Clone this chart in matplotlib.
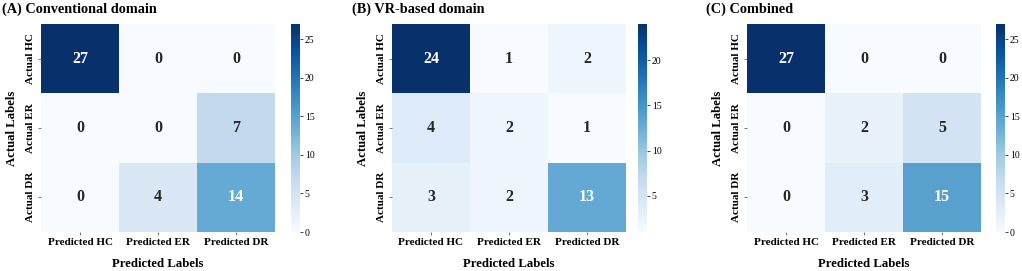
import numpy as np
import matplotlib
matplotlib.use("Agg")
import matplotlib.pyplot as plt
import seaborn as sns

plt.rcParams['font.family'] = ['Liberation Serif', 'DejaVu Serif']

pred_labels = ["Predicted HC", "Predicted ER", "Predicted DR"]
actual_labels = ["Actual HC", "Actual ER", "Actual DR"]

cm_conventional = [[27, 0, 0],
                   [0, 0, 7],
                   [0, 4, 14]]
cm_vr = [[24, 1, 2],
         [4, 2, 1],
         [3, 2, 13]]
cm_combined = [[27, 0, 0],
               [0, 2, 5],
               [0, 3, 15]]

titles = ["(A) Conventional domain", "(B) VR-based domain", "(C) Combined"]
matrices = [cm_conventional, cm_vr, cm_combined]

W, H = 1022, 271
fig = plt.figure(figsize=(W / 100, H / 100), dpi=100)

# pixel positions of heatmap / colorbar / title for each panel
hm_left = [41, 392, 747]
cb_left = [291, 638, 996]
title_x = [2, 352, 706]
hm_w, cb_w = 234, 9
top, bottom = 24, 232

for i in range(3):
    ax = fig.add_axes([hm_left[i] / W, 1 - bottom / H, hm_w / W, (bottom - top) / H])
    cax = fig.add_axes([cb_left[i] / W, 1 - bottom / H, cb_w / W, (bottom - top) / H])
    sns.heatmap(np.array(matrices[i]), annot=True, fmt="d", cmap="Blues",
                ax=ax, cbar_ax=cax,
                xticklabels=pred_labels, yticklabels=actual_labels,
                annot_kws={"fontsize": 11.5, "fontweight": "bold"})
    ax.set_xticklabels(pred_labels, fontsize=8, fontweight="bold", rotation=0)
    ax.set_yticklabels(actual_labels, fontsize=8, fontweight="bold", rotation=90, va="center")
    ax.set_xlabel("Predicted Labels", fontsize=9.2, fontweight="bold", labelpad=8)
    ax.set_ylabel("Actual Labels", fontsize=9.2, fontweight="bold", labelpad=6)
    ax.tick_params(length=2, width=0.5, pad=2, colors="#444444", labelcolor="black")
    cax.tick_params(labelsize=7, length=2, width=0.5, pad=1.5)
    fig.text(title_x[i] / W, 1 - 9 / H, titles[i], fontsize=10.3, fontweight="bold",
             ha="left", va="center")

fig.savefig("out.png", dpi=100)
